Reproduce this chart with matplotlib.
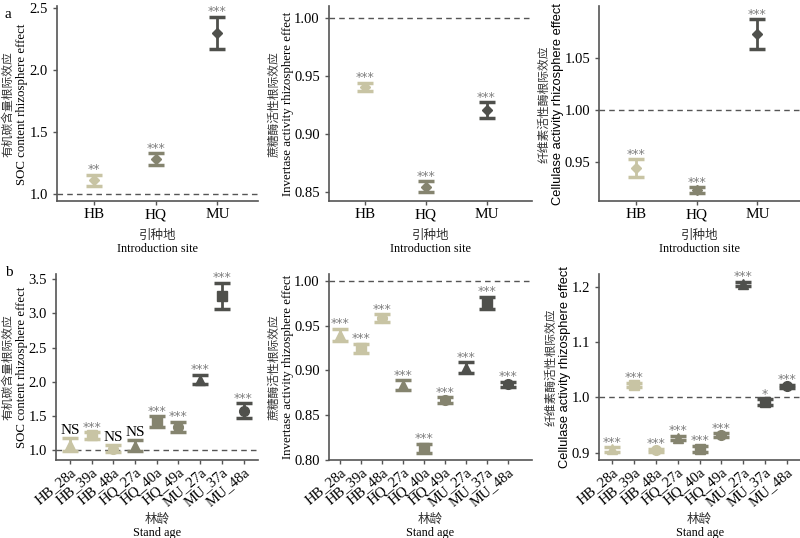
import numpy as np
import matplotlib
matplotlib.use("Agg")
import matplotlib.pyplot as plt

plt.rcParams['font.family'] = ['Liberation Serif', 'Noto Sans CJK SC', 'DejaVu Sans']
plt.rcParams['font.size'] = 10

# ---- data: introduction site (a) ----
sites = ['HB', 'HQ', 'MU']
soc_site = [1.11, 1.28, 2.295]
soc_site_err = [0.045, 0.045, 0.13]
soc_site_sig = ['**', '***', '***']
inv_site = [0.941, 0.855, 0.921]
inv_site_err = [0.0035, 0.0045, 0.0067]
inv_site_sig = ['***', '***', '***']
cel_site = [0.944, 0.9225, 1.073]
cel_site_err = [0.0085, 0.0028, 0.0145]
cel_site_sig = ['***', '***', '***']

# ---- data: stand age (b) ----
ages = ['HB_28a', 'HB_39a', 'HB_48a', 'HQ_27a', 'HQ_40a', 'HQ_49a',
        'MU_27a', 'MU_37a', 'MU_48a']
soc_age = [1.08, 1.215, 1.022, 1.065, 1.414, 1.341, 2.031, 3.26, 1.575]
soc_age_err = [0.097, 0.046, 0.046, 0.08, 0.08, 0.07, 0.068, 0.19, 0.107]
soc_age_sig = ['NS', '***', 'NS', 'NS', '***', '***', '***', '***', '***']
inv_age = [0.940, 0.925, 0.9585, 0.8835, 0.813, 0.867, 0.903, 0.9755, 0.8846]
inv_age_err = [0.0065, 0.005, 0.0045, 0.0055, 0.005, 0.003, 0.006, 0.0065, 0.003]
inv_age_sig = ['***'] * 9
cel_age = [0.906, 1.023, 0.904, 0.927, 0.907, 0.932, 1.206, 0.992, 1.020]
cel_age_err = [0.004, 0.004, 0.003, 0.004, 0.005, 0.003, 0.004, 0.005, 0.003]
cel_age_sig = ['***', '***', '***', '***', '***', '***', '***', '*', '***']

site_cols = {'HB': '#c8c4a4', 'HQ': '#85846f', 'MU': '#4f504c'}
age_markers = ['^', 's', 'o']
spine_col = '#555555'
star_col = '#7f7f7f'
PX = 72.0 / 100  # points per pixel


def style(ax, ylim, xlim, yticks, fmt):
    for s in ['top', 'right']:
        ax.spines[s].set_visible(False)
    for s in ['left', 'bottom']:
        ax.spines[s].set_color(spine_col)
        ax.spines[s].set_linewidth(1.2)
    ax.set_ylim(*ylim)
    ax.set_xlim(*xlim)
    ax.set_yticks(yticks)
    ax.set_yticklabels([fmt % v for v in yticks])
    ax.tick_params(axis='both', colors=spine_col, labelcolor='black',
                   length=3, width=1, labelsize=10.5)
    ax.tick_params(axis='x', labelsize=11, pad=2)
    ax.axhline(1.0, color=spine_col, lw=1, ls=(0, (4, 3)), zorder=0)


def draw(ax, labels, means, errs, sigs, markers, sz):
    x = np.arange(len(labels))
    for i, lab in enumerate(labels):
        c = site_cols[lab[:2]]
        ax.errorbar(x[i], means[i], yerr=errs[i], fmt=markers[i], color=c,
                    ms=sz, elinewidth=2, capsize=5.5, capthick=2.5, zorder=3)
        if sigs[i] == 'NS':
            ax.annotate('NS', (x[i], means[i] + errs[i]), xytext=(0, 1),
                        textcoords='offset points', ha='center', va='bottom',
                        fontsize=11, color='black')
        else:
            ax.annotate(sigs[i], (x[i], means[i] + errs[i]), xytext=(0, -1),
                        textcoords='offset points', ha='center', va='bottom',
                        fontsize=9, color=star_col, family='DejaVu Sans')
    ax.set_xticks(x)


def ylab(ax, zh, en, fam, zh_dx, en_dx):
    ax.annotate(en, xy=(0, 0.5), xycoords='axes fraction',
                xytext=(en_dx * PX, 0), textcoords='offset points',
                rotation=90, ha='center', va='center', fontsize=9.3,
                family=[fam, 'Noto Sans CJK SC'])
    ax.annotate(zh, xy=(0, 0.5), xycoords='axes fraction',
                xytext=(zh_dx * PX, 0), textcoords='offset points',
                rotation=90, ha='center', va='center', fontsize=8.5,
                color='#333333', family=['Noto Sans CJK SC'])


def xlab(ax, zh, en, zh_dy, en_dy):
    ax.annotate(zh, xy=(0.5, 0), xycoords='axes fraction',
                xytext=(0, zh_dy * PX), textcoords='offset points',
                ha='center', va='center', fontsize=9,
                color='#333333', family=['Noto Sans CJK SC'])
    ax.annotate(en, xy=(0.5, 0), xycoords='axes fraction',
                xytext=(0, en_dy * PX), textcoords='offset points',
                ha='center', va='center', fontsize=8.8)


fig = plt.figure(figsize=(8, 5.38), dpi=100)

top_y, top_h = 0.626, 0.362
bot_y, bot_h = 0.145, 0.346
ax1 = fig.add_axes([0.071, top_y, 0.251, top_h])
ax2 = fig.add_axes([0.411, top_y, 0.254, top_h])
ax3 = fig.add_axes([0.749, top_y, 0.251, top_h])
ax4 = fig.add_axes([0.070, bot_y, 0.252, bot_h])
ax5 = fig.add_axes([0.411, bot_y, 0.254, bot_h])
ax6 = fig.add_axes([0.749, bot_y, 0.251, bot_h])

style(ax1, (0.94, 2.51), (-0.6, 2.65), [1.0, 1.5, 2.0, 2.5], '%.1f')
style(ax2, (0.8425, 1.010), (-0.6, 2.75), [0.85, 0.90, 0.95, 1.00], '%.2f')
style(ax3, (0.912, 1.10), (-0.6, 2.7), [0.95, 1.00, 1.05], '%.2f')
style(ax4, (0.855, 3.58), (-0.65, 8.65), [1.0, 1.5, 2.0, 2.5, 3.0, 3.5], '%.1f')
style(ax5, (0.80, 1.008), (-0.55, 9.17), [0.80, 0.85, 0.90, 0.95, 1.00], '%.2f')
style(ax6, (0.8867, 1.224), (-0.6, 8.6), [0.9, 1.0, 1.1, 1.2], '%.1f')

# top row
for ax, m, e, s in [(ax1, soc_site, soc_site_err, soc_site_sig),
                    (ax2, inv_site, inv_site_err, inv_site_sig),
                    (ax3, cel_site, cel_site_err, cel_site_sig)]:
    draw(ax, sites, m, e, s, ['D'] * 3, 5)
    ax.set_xticklabels(sites)
    xlab(ax, '引种地', 'Introduction site', -34, -48)

# bottom row
mk = age_markers * 3
for ax, m, e, s in [(ax4, soc_age, soc_age_err, soc_age_sig),
                    (ax5, inv_age, inv_age_err, inv_age_sig),
                    (ax6, cel_age, cel_age_err, cel_age_sig)]:
    draw(ax, ages, m, e, s, mk, 7)
    ax.set_xticklabels(ages, rotation=40, ha='right', rotation_mode='anchor')
    ax.tick_params(axis='x', labelsize=10.5, pad=1)
    xlab(ax, '林龄', 'Stand age', -59, -73)

ylab(ax1, '有机碳含量根际效应', 'SOC content rhizosphere effect', 'Liberation Serif', -49, -35)
ylab(ax2, '蔗糖酶活性根际效应', 'Invertase activity rhizosphere effect', 'Liberation Serif', -55, -41)
ylab(ax3, '纤维素活性酶根际效应', 'Cellulase activity rhizosphere effect', 'Liberation Sans', -55, -41)
ylab(ax4, '有机碳含量根际效应', 'SOC content rhizosphere effect', 'Liberation Serif', -48, -34)
ylab(ax5, '蔗糖酶活性根际效应', 'Invertase activity rhizosphere effect', 'Liberation Serif', -55, -41)
ylab(ax6, '纤维素酶活性根际效应', 'Cellulase activity rhizosphere effect', 'Liberation Sans', -48, -34)

fig.text(0.006, 0.985, 'a', fontsize=11, va='top')
fig.text(0.006, 0.505, 'b', fontsize=11, va='top')

fig.savefig('out.png', dpi=100)
